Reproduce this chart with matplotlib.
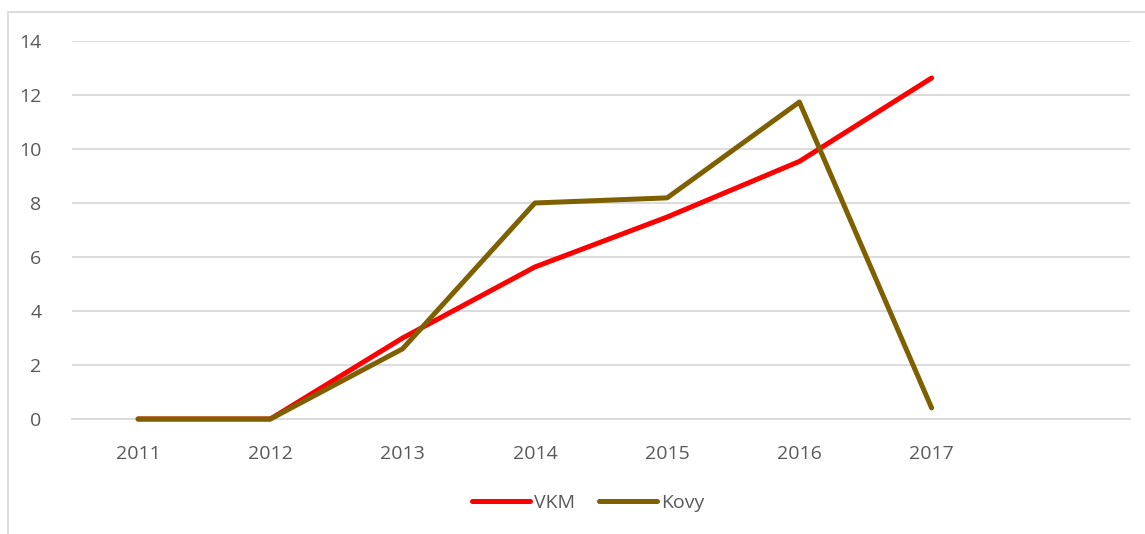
import matplotlib.pyplot as plt
from matplotlib.patches import Rectangle

years = ["2011", "2012", "2013", "2014", "2015", "2016", "2017", ""]
vkm = [0, 0, 3.0, 5.63, 7.48, 9.54, 12.63]
kovy = [0, 0, 2.6, 8.0, 8.19, 11.74, 0.41]

plt.rcParams["font.family"] = ["Open Sans", "DejaVu Sans"]

fig = plt.figure(figsize=(11.45, 5.34), dpi=100)
ax = fig.add_axes([72 / 1145, 1 - 419 / 534, (1130 - 72) / 1145, (419 - 41) / 534])

x = list(range(len(years)))
ax.plot(x[:len(vkm)], vkm, color="#FF0000", lw=3.6, label="VKM", solid_capstyle="round",
        clip_on=False, zorder=3)
ax.plot(x[:len(kovy)], kovy, color="#7F6000", lw=3.6, label="Kovy", solid_capstyle="round",
        clip_on=False, zorder=3)

ax.set_xlim(-0.5, len(years) - 0.5)
ax.set_ylim(0, 14)
ax.set_yticks(range(0, 15, 2))
ax.set_xticks(x)
ax.set_xticklabels(years)
ax.grid(axis="y", color="#D9D9D9", lw=1.3)
ax.set_axisbelow(True)
for s in ["top", "right", "left"]:
    ax.spines[s].set_visible(False)
ax.spines["bottom"].set_color("#D9D9D9")
ax.spines["bottom"].set_linewidth(1.3)
ax.tick_params(length=0, labelsize=14, colors="#595959")
ax.tick_params(axis="x", pad=19)
ax.tick_params(axis="y", pad=22)

fig.legend(loc="center", bbox_to_anchor=(588 / 1145, 1 - 503 / 534), ncol=2, frameon=False,
           fontsize=14, labelcolor="#595959", handlelength=3.0, handletextpad=0.2,
           columnspacing=1.2)

fig.patches.append(Rectangle((8 / 1145, -0.1), 1.2, 1 - 12 / 534 + 0.1, transform=fig.transFigure,
                             fill=False, edgecolor="#D9D9D9", lw=1.3))

fig.savefig("out.png", dpi=100)
